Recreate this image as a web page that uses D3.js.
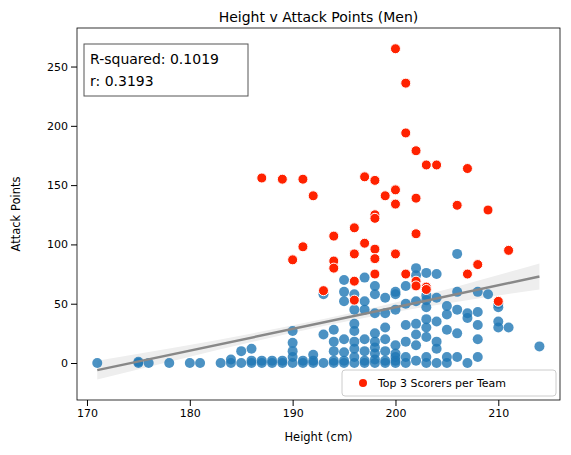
<!DOCTYPE html><html><head><script src="https://d3js.org/d3.v7.min.js"></script>
<style>body{margin:0;background:#fff}text{font-family:"DejaVu Sans",sans-serif}</style></head><body><svg id="c" width="571" height="455"></svg>
<script>
const others=[[171,0],[175,0],[175,1],[176,0],[178,0],[180,0],[181,0],[183,0],[184,0],[184,3],[185,0],[185,10],[186,0],[186,12],[186,2],[187,0],[187,2],[188,0],[188,2],[189,0],[189,2],[190,0],[190,5],[190,10],[190,17],[190,27],[191,0],[191,2],[192,0],[192,7],[192,2],[193,0],[193,24],[193,58],[194,0],[194,2],[194,10],[194,18],[194,28],[195,0],[195,2],[195,9],[195,20],[195,52],[195,60],[195,70],[196,0],[196,5],[196,12],[196,18],[196,27],[196,33],[196,45],[196,58],[197,0],[197,2],[197,10],[197,20],[197,45],[197,52],[197,72],[198,0],[198,3],[198,8],[198,13],[198,18],[198,25],[198,42],[198,58],[198,65],[199,0],[199,2],[199,10],[199,20],[199,30],[199,42],[199,55],[200,0],[200,2],[200,5],[200,8],[200,15],[200,45],[200,58],[200,60],[201,0],[201,5],[201,18],[201,32],[201,50],[201,65],[202,2],[202,15],[202,24],[202,33],[202,52],[202,74],[202,80],[203,0],[203,5],[203,22],[203,30],[203,37],[203,47],[203,53],[203,57],[203,76],[204,0],[204,12],[204,18],[204,35],[204,55],[204,75],[205,0],[205,5],[205,28],[205,41],[205,48],[206,5],[206,25],[206,45],[206,60],[206,92],[207,0],[207,38],[207,42],[208,5],[208,20],[208,32],[208,43],[208,60],[209,58],[210,30],[210,35],[210,47],[210,50],[211,30],[214,14]];
const top3=[[187,156],[189,155],[191,155],[192,141],[190,87],[191,98],[193,61],[194,107],[194,86],[194,80],[196,114],[196,92],[196,69],[196,53],[197,157],[197,101],[198,154],[198,125],[198,122],[198,96],[198,88],[198,75],[199,141],[200,265],[200,146],[200,134],[200,92],[201,236],[201,194],[201,75],[202,179],[202,139],[202,109],[202,69],[202,65],[203,167],[203,64],[203,62],[204,167],[206,133],[207,164],[207,75],[208,83],[209,129],[210,52],[211,95]];
const fitX=[171,200,214], fitY=[-6,47,73], ciLo=[-14,43,62], ciHi=[2,51,84];
const xTicks=[170,180,190,200,210], yTicks=[0,50,100,150,200,250];
const svg=d3.select("#c");
const L=77,R=560,T=28,B=400;
const x=d3.scaleLinear().domain([169.03,216.0]).range([L,R]);
const y=d3.scaleLinear().domain([-31.2,282.5]).range([B,T]);
const band=fitX.map((v,i)=>({x:v,lo:ciLo[i],hi:ciHi[i],y:fitY[i]}));
svg.append("path").datum(band).attr("fill","#eeeeee").attr("d",d3.area().x(d=>x(d.x)).y0(d=>y(d.lo)).y1(d=>y(d.hi)).curve(d3.curveMonotoneX));
svg.append("g").selectAll("circle").data(others).join("circle").attr("cx",d=>x(d[0])).attr("cy",d=>y(d[1])).attr("r",5).attr("fill","#1f77b4").attr("fill-opacity",0.8);
svg.append("path").datum(band).attr("fill","none").attr("stroke","#888").attr("stroke-width",2.5).attr("d",d3.line().x(d=>x(d.x)).y(d=>y(d.y)));
svg.append("g").selectAll("circle").data(top3).join("circle").attr("cx",d=>x(d[0])).attr("cy",d=>y(d[1])).attr("r",5).attr("fill","#ff2200").attr("stroke","#fff").attr("stroke-width",1);
svg.append("rect").attr("x",L).attr("y",T).attr("width",R-L).attr("height",B-T).attr("fill","none").attr("stroke","#000").attr("stroke-width",0.8);
svg.append("g").attr("transform",`translate(0,${B})`).call(d3.axisBottom(x).tickValues(xTicks).tickSizeOuter(0)).call(g=>g.select(".domain").remove()).selectAll("text").attr("font-size",11).attr("font-family","DejaVu Sans");
svg.append("g").attr("transform",`translate(${L},0)`).call(d3.axisLeft(y).tickValues(yTicks).tickSizeOuter(0)).call(g=>g.select(".domain").remove()).selectAll("text").attr("font-size",11).attr("font-family","DejaVu Sans");
svg.append("text").attr("x",(L+R)/2).attr("y",22).attr("text-anchor","middle").attr("font-size",14).text("Height v Attack Points (Men)");
svg.append("text").attr("x",(L+R)/2).attr("y",441).attr("text-anchor","middle").attr("font-size",11.5).text("Height (cm)");
svg.append("text").attr("transform",`translate(20,${(T+B)/2}) rotate(-90)`).attr("text-anchor","middle").attr("font-size",11.5).text("Attack Points");
svg.append("rect").attr("x",84).attr("y",44).attr("width",164).attr("height",52).attr("fill","#fff").attr("stroke","#555");
svg.append("text").attr("x",90).attr("y",64).attr("font-size",14).text("R-squared: 0.1019");
svg.append("text").attr("x",90).attr("y",86).attr("font-size",14).text("r: 0.3193");
svg.append("rect").attr("x",342).attr("y",370).attr("width",214).attr("height",26).attr("rx",3).attr("fill","#fff").attr("fill-opacity",0.8).attr("stroke","#ccc");
svg.append("circle").attr("cx",363).attr("cy",383).attr("r",4).attr("fill","#ff2200");
svg.append("text").attr("x",378).attr("y",387).attr("font-size",11).text("Top 3 Scorers per Team");
</script></body></html>
